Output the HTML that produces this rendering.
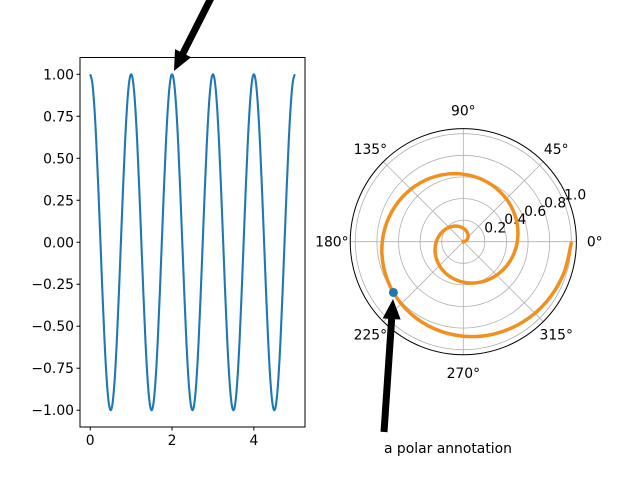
<!DOCTYPE html>
<html><head><meta charset="utf-8"><style>
body{margin:0;background:#fff}
svg text{font-family:"DejaVu Sans","Liberation Sans",sans-serif;font-size:13.9px;fill:#000}
</style></head><body>
<svg id="fig" width="640" height="480" viewBox="0 0 640 480" xmlns="http://www.w3.org/2000/svg">
<rect width="640" height="480" fill="#fff"/>
<g id="left"></g>
<g id="polar"></g>
<g id="ann"></g>
</svg>
<script>
const cosT=[0,0.05,0.1,0.15,0.2,0.25,0.3,0.35,0.4,0.45,0.5,0.55,0.6,0.65,0.7,0.75,0.8,0.85,0.9,0.95,1,1.05,1.1,1.15,1.2,1.25,1.3,1.35,1.4,1.45,1.5,1.55,1.6,1.65,1.7,1.75,1.8,1.85,1.9,1.95,2,2.05,2.1,2.15,2.2,2.25,2.3,2.35,2.4,2.45,2.5,2.55,2.6,2.65,2.7,2.75,2.8,2.85,2.9,2.95,3,3.05,3.1,3.15,3.2,3.25,3.3,3.35,3.4,3.45,3.5,3.55,3.6,3.65,3.7,3.75,3.8,3.85,3.9,3.95,4,4.05,4.1,4.15,4.2,4.25,4.3,4.35,4.4,4.45,4.5,4.55,4.6,4.65,4.7,4.75,4.8,4.85,4.9,4.95,5];
const cosV=[1,.951,.809,.588,.309,0,-.309,-.588,-.809,-.951,-1,-.951,-.809,-.588,-.309,0,.309,.588,.809,.951,
1,.951,.809,.588,.309,0,-.309,-.588,-.809,-.951,-1,-.951,-.809,-.588,-.309,0,.309,.588,.809,.951,
1,.951,.809,.588,.309,0,-.309,-.588,-.809,-.951,-1,-.951,-.809,-.588,-.309,0,.309,.588,.809,.951,
1,.951,.809,.588,.309,0,-.309,-.588,-.809,-.951,-1,-.951,-.809,-.588,-.309,0,.309,.588,.809,.951,
1,.951,.809,.588,.309,0,-.309,-.588,-.809,-.951,-1,-.951,-.809,-.588,-.309,0,.309,.588,.809,.951,1];
const xTicks=[0,2,4];
const yTicks=[-1,-0.75,-0.5,-0.25,0,0.25,0.5,0.75,1];
const spiralR=[0,0.025,0.05,0.075,0.1,0.125,0.15,0.175,0.2,0.225,0.25,0.275,0.3,0.325,0.35,0.375,0.4,0.425,0.45,0.475,0.5,0.525,0.55,0.575,0.6,0.625,0.65,0.675,0.7,0.725,0.75,0.775,0.8,0.825,0.85,0.875,0.9,0.925,0.95,0.975,0.999];
const spiralTheta=[0,18,36,54,72,90,108,126,144,162,180,198,216,234,252,270,288,306,324,342,360,378,396,414,432,450,468,486,504,522,540,558,576,594,612,630,648,666,684,702,719];
const rTicks=[0.2,0.4,0.6,0.8,1.0];
const thetaTicks=[0,45,90,135,180,225,270,315];
const markR=0.8, markTheta=576;

const NS="http://www.w3.org/2000/svg";
function mk(tag,attrs,parent){const e=document.createElementNS(NS,tag);for(const k in attrs)e.setAttribute(k,attrs[k]);parent.appendChild(e);return e;}
function smooth(pts){let d="M"+pts[0][0]+","+pts[0][1];for(let i=0;i<pts.length-1;i++){const p0=pts[Math.max(0,i-1)],p1=pts[i],p2=pts[i+1],p3=pts[Math.min(pts.length-1,i+2)];
d+=" C"+(p1[0]+(p2[0]-p0[0])/6)+","+(p1[1]+(p2[1]-p0[1])/6)+" "+(p2[0]-(p3[0]-p1[0])/6)+","+(p2[1]-(p3[1]-p1[1])/6)+" "+p2[0]+","+p2[1];}return d;}

// Left axes
const L=document.getElementById('left');
const X0=80,X1=305,Y0=57.5,Y1=427;
const xs=v=>X0+(v+0.25)/5.5*(X1-X0);
const ys=v=>Y1-(v+1.1)/2.2*(Y1-Y0);
const cpts=cosT.map((t,i)=>[xs(t),ys(cosV[i])]);
const line=mk('path',{d:smooth(cpts),fill:'none',stroke:'#1f77b4','stroke-width':2.1},L);


const frame=mk('rect',{x:X0,y:Y0,width:X1-X0,height:Y1-Y0,fill:'none',stroke:'#000','stroke-width':1},L);


xTicks.forEach(v=>{const x=xs(v);
 const tk=mk('line',{x1:x,x2:x,y1:Y1,y2:Y1+3.5,stroke:'#000'},L);
 
 
 const t=mk('text',{x:x,y:Y1+18,'text-anchor':'middle'},L);t.textContent=v;
 
 });
yTicks.forEach(v=>{const y=ys(v);
 const tk=mk('line',{x1:X0-3.5,x2:X0,y1:y,y2:y,stroke:'#000'},L);
 
 
 const t=mk('text',{x:X0-6,y:y+5,'text-anchor':'end'},L);t.textContent=v.toFixed(2).replace('-','\u2212');
 
 });

// Polar axes
const P=document.getElementById('polar');
const CX=463.3,CY=241.7,SC=108,RMAX=1.047;
const pp=(r,th)=>[CX+r*SC*Math.cos(th*Math.PI/180),CY-r*SC*Math.sin(th*Math.PI/180)];
rTicks.forEach(r=>{const c=mk('circle',{cx:CX,cy:CY,r:r*SC,fill:'none',stroke:'#b0b0b0','stroke-width':0.8},P);
 
 });
thetaTicks.forEach(th=>{const e=pp(RMAX,th);
 const g=mk('line',{x1:CX,y1:CY,x2:e[0],y2:e[1],stroke:'#b0b0b0','stroke-width':0.8},P);
 
 
 const lp=pp(RMAX+0.17,th);
 const t=mk('text',{x:lp[0],y:lp[1]+5,'text-anchor':'middle'},P);t.textContent=th+'°';
 
 });
rTicks.forEach(r=>{const p=pp(r,22.5);
 const t=mk('text',{x:p[0]+1,y:p[1]-1,'text-anchor':'start'},P);t.textContent=r.toFixed(1);
 
 });
const sp=mk('path',{d:smooth(spiralR.map((r,i)=>pp(r,spiralTheta[i]))),fill:'none',stroke:'#f0901e','stroke-width':3.5,'stroke-linecap':'square'},P);


const spine=mk('circle',{cx:CX,cy:CY,r:RMAX*SC,fill:'none',stroke:'#000','stroke-width':1},P);


const mp=pp(markR,markTheta);
const dot=mk('circle',{cx:mp[0],cy:mp[1],r:4.5,fill:'#1f77b4'},P);



// Arrows
const A=document.getElementById('ann');
function arrow(x1,y1,x2,y2,name){const dx=x2-x1,dy=y2-y1,len=Math.hypot(dx,dy),ux=dx/len,uy=dy/len,nx=-uy,ny=ux;
 const hw=9,hl=20,sw=3.5;const bx=x2-ux*hl,by=y2-uy*hl;
 const pts=[[x1+nx*sw,y1+ny*sw],[bx+nx*sw,by+ny*sw],[bx+nx*hw,by+ny*hw],[x2,y2],[bx-nx*hw,by-ny*hw],[bx-nx*sw,by-ny*sw],[x1-nx*sw,y1-ny*sw]];
 const p=mk('polygon',{points:pts.map(q=>q.join(',')).join(' '),fill:'#000'},A);
 
 }
arrow(212,-4,174,71,'cartesian-annotation-arrow');
arrow(384,432,393,299,'polar-annotation-arrow');
const at=mk('text',{x:384,y:453},A);at.textContent='a polar annotation';


</script>
</body></html>
